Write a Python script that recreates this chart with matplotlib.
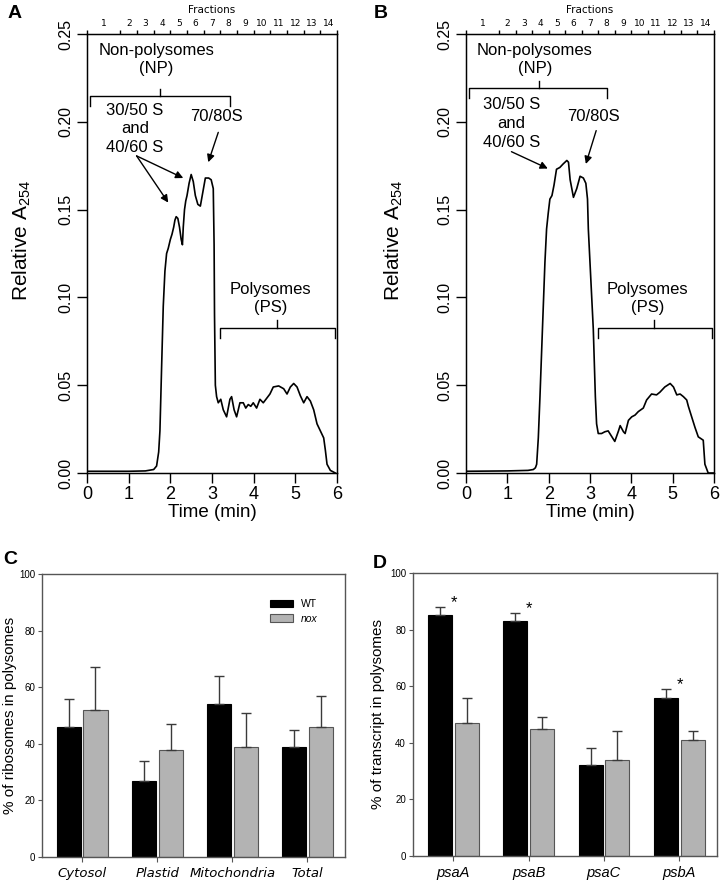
import numpy as np
import matplotlib
matplotlib.use('Agg')
import matplotlib.pyplot as plt

plt.rcParams['font.family'] = ['Liberation Sans', 'DejaVu Sans']
plt.rcParams['mathtext.default'] = 'regular'

# ---- panel A/B profiles (time in min, relative A254) ----
time_a = [0.0, 1.0, 1.4, 1.6, 1.67, 1.72, 1.75, 1.79, 1.83, 1.87, 1.91, 1.95,
          2.0, 2.04, 2.08, 2.11, 2.14, 2.18, 2.22, 2.26, 2.29, 2.31, 2.34, 2.37,
          2.4, 2.45, 2.5, 2.55, 2.6, 2.66, 2.72, 2.78, 2.84, 2.92, 2.98, 3.03,
          3.05, 3.06, 3.08, 3.11, 3.15, 3.21, 3.27, 3.35, 3.43, 3.47, 3.53, 3.59,
          3.67, 3.75, 3.81, 3.87, 3.93, 3.99, 4.07, 4.15, 4.23, 4.31, 4.39, 4.47,
          4.6, 4.72, 4.8, 4.88, 4.96, 5.04, 5.12, 5.2, 5.28, 5.36, 5.44, 5.52,
          5.6, 5.68, 5.72, 5.76, 5.84, 5.96]
abs_a = [0.001, 0.001, 0.0012, 0.002, 0.004, 0.012, 0.024, 0.06, 0.095, 0.115,
         0.125, 0.128, 0.133, 0.136, 0.140, 0.144, 0.146, 0.145, 0.140, 0.133,
         0.130, 0.140, 0.150, 0.155, 0.158, 0.165, 0.170, 0.166, 0.158, 0.153,
         0.152, 0.160, 0.168, 0.168, 0.167, 0.162, 0.13, 0.09, 0.05, 0.0435,
         0.040, 0.042, 0.036, 0.032, 0.042, 0.0435, 0.036, 0.032, 0.040, 0.040,
         0.037, 0.039, 0.038, 0.040, 0.037, 0.042, 0.040, 0.0425, 0.045, 0.049,
         0.0496, 0.048, 0.045, 0.049, 0.051, 0.049, 0.044, 0.040, 0.0435, 0.041,
         0.036, 0.028, 0.024, 0.020, 0.013, 0.005, 0.0015, 0.0]

time_b = [0.0, 1.0, 1.5, 1.63, 1.68, 1.71, 1.75, 1.79, 1.85, 1.91, 1.95, 1.99,
          2.03, 2.08, 2.13, 2.19, 2.27, 2.35, 2.44, 2.48, 2.52, 2.6, 2.68, 2.76,
          2.84, 2.9, 2.94, 2.96, 3.0, 3.08, 3.13, 3.16, 3.2, 3.28, 3.36, 3.44,
          3.52, 3.6, 3.69, 3.73, 3.81, 3.85, 3.93, 4.01, 4.09, 4.17, 4.29, 4.37,
          4.49, 4.61, 4.69, 4.81, 4.94, 5.02, 5.1, 5.18, 5.26, 5.34, 5.38, 5.46,
          5.54, 5.62, 5.74, 5.78, 5.86, 6.0]
abs_b = [0.001, 0.0012, 0.0015, 0.002, 0.003, 0.005, 0.02, 0.0435, 0.082, 0.12,
         0.139, 0.148, 0.156, 0.158, 0.164, 0.173, 0.174, 0.176, 0.178, 0.177,
         0.167, 0.157, 0.162, 0.169, 0.168, 0.165, 0.156, 0.139, 0.12, 0.082,
         0.0435, 0.028, 0.0225, 0.0225, 0.0235, 0.024, 0.021, 0.018, 0.024, 0.027,
         0.0235, 0.0225, 0.030, 0.032, 0.033, 0.035, 0.037, 0.0416, 0.045, 0.0445,
         0.046, 0.049, 0.051, 0.049, 0.0445, 0.045, 0.0435, 0.0416, 0.038, 0.032,
         0.026, 0.0206, 0.0187, 0.005, 0.0, 0.0]

frac_edges = [0, 0.8, 1.2, 1.6, 2.0, 2.4, 2.8, 3.2, 3.6, 4.0, 4.4, 4.8, 5.2,
              5.6, 6.0]
frac_labels = [str(i) for i in range(1, 15)]

# ---- panel C/D bars ----
cats_c = ['Cytosol', 'Plastid', 'Mitochondria', 'Total']
wt_c = [46, 27, 54, 39]
wt_c_err = [10, 7, 10, 6]
nox_c = [52, 38, 39, 46]
nox_c_err = [15, 9, 12, 11]

cats_d = ['psaA', 'psaB', 'psaC', 'psbA']
wt_d = [85, 83, 32, 56]
wt_d_err = [3, 3, 6, 3]
nox_d = [47, 45, 34, 41]
nox_d_err = [9, 4, 10, 3]
signif_d = [True, True, False, True]

fig = plt.figure(figsize=(7.22, 8.84), dpi=100)


def profile_panel(rect, t, a, ann):
    ax = fig.add_axes(rect)
    ax.plot(t, a, color='k', lw=1.2)
    ax.set_xlim(0, 6)
    ax.set_ylim(0, 0.25)
    ax.set_xticks(range(7))
    ax.set_yticks([0, 0.05, 0.10, 0.15, 0.20, 0.25])
    ax.set_yticklabels(['0.00', '0.05', '0.10', '0.15', '0.20', '0.25'])
    ax.tick_params(axis='x', length=7, width=1, labelsize=13, pad=2)
    ax.tick_params(axis='y', length=7, width=1, labelsize=11.5, pad=3,
                   labelrotation=90)
    for lab in ax.get_yticklabels():
        lab.set_va('center')
    for s in ax.spines.values():
        s.set_linewidth(1)
    ax.set_xlabel('Time (min)', fontsize=13.5, labelpad=1)
    ax.set_ylabel('Relative A$_{254}$', fontsize=15)
    ax.yaxis.set_label_coords(ann['ylab_x'], 0.53)

    # fractions axis on top
    top = ax.twiny()
    top.set_xlim(0, 6)
    top.set_xticks(frac_edges)
    top.set_xticklabels([])
    mids = [(frac_edges[i] + frac_edges[i + 1]) / 2 for i in range(14)]
    top.set_xticks(mids, minor=True)
    top.set_xticklabels(frac_labels, minor=True, family='DejaVu Sans')
    top.tick_params(axis='x', which='major', length=3, width=1)
    top.tick_params(axis='x', which='minor', length=0, labelsize=6.5, pad=4)
    top.set_xlabel('Fractions', fontsize=7.5, family='DejaVu Sans', labelpad=5)

    # annotations
    kw = dict(ha='center', va='center', fontsize=12, linespacing=1.3)
    ax.text(1.67, 0.2355, 'Non-polysomes\n(NP)', **kw)
    ax.text(4.40, 0.0995, 'Polysomes\n(PS)', **kw)
    ax.text(ann['s_txt'][0], ann['s_txt'][1], '30/50 S\nand\n40/60 S', **kw)
    ax.text(ann['m_txt'][0], ann['m_txt'][1], '70/80S', **kw)
    ap = dict(arrowstyle='-|>', color='k', lw=1, mutation_scale=11,
              shrinkA=0, shrinkB=0)
    for tip in ann['s_tips']:
        ax.annotate('', xy=tip, xytext=ann['s_from'], arrowprops=ap)
    ax.annotate('', xy=ann['m_tip'], xytext=ann['m_from'], arrowprops=ap)

    # brackets
    for x0, x1, xc, yb, h in [(ann['np'][0], ann['np'][1], ann['np'][2], ann['np'][3], 0.0055),
                              (3.19, 5.94, 4.56, 0.0826, 0.0055)]:
        ax.plot([x0, x0, x1, x1], [yb - h, yb, yb, yb - h], color='k', lw=1)
        ax.plot([xc, xc], [yb, yb + h * 0.8], color='k', lw=1)
    return ax


ann_a = dict(s_txt=(1.15, 0.196), m_txt=(3.11, 0.203),
             s_from=(1.19, 0.1806), s_tips=[(2.31, 0.168), (1.95, 0.154)],
             m_from=(3.15, 0.194), m_tip=(2.91, 0.177),
             np=(0.06, 3.42, 1.76, 0.2145), ylab_x=-0.216)
ann_b = dict(s_txt=(1.10, 0.199), m_txt=(3.08, 0.203),
             s_from=(1.10, 0.183), s_tips=[(1.98, 0.1734)],
             m_from=(3.15, 0.195), m_tip=(2.90, 0.176),
             np=(0.08, 3.42, 1.77, 0.219), ylab_x=-0.246)

profile_panel([0.1205, 0.4649, 0.3463, 0.4966], time_a, abs_a, ann_a)
profile_panel([0.6454, 0.4649, 0.3435, 0.4966], time_b, abs_b, ann_b)


def bar_panel(rect, cats, wt, wt_err, nox, nox_err, ylabel, ylab_x, cat_font):
    ax = fig.add_axes(rect)
    x = np.arange(len(cats))
    w = 0.32
    off = 0.177
    ax.bar(x - off, wt, w, color='k', edgecolor='k', lw=0.8, label='WT')
    ax.bar(x + off, nox, w, color='#b3b3b3', edgecolor='#555555', lw=0.8,
           label='nox')
    ax.errorbar(x - off, wt, yerr=[np.zeros(len(x)), wt_err], fmt='none',
                ecolor='#3a3a3a', elinewidth=1, capsize=3.6, capthick=1)
    ax.errorbar(x + off, nox, yerr=[np.zeros(len(x)), nox_err], fmt='none',
                ecolor='#3a3a3a', elinewidth=1, capsize=3.6, capthick=1)
    ax.set_xlim(-0.535, 3.5)
    ax.set_ylim(0, 100)
    ax.set_yticks([0, 20, 40, 60, 80, 100])
    ax.set_xticks(x)
    ax.set_xticklabels(cats, **cat_font)
    ax.tick_params(axis='y', length=3, width=0.8, labelsize=7, pad=2,
                   color='#555555')
    ax.tick_params(axis='x', length=3.5, width=0.8, pad=4, color='#555555')
    for s in ax.spines.values():
        s.set_color('#555555')
        s.set_linewidth(1)
    ax.set_ylabel(ylabel, fontsize=11)
    ax.yaxis.set_label_coords(ylab_x, 0.5)
    return ax, x, off


ax_c, xc, off = bar_panel([0.0582, 0.0305, 0.4197, 0.3201], cats_c, wt_c,
                          wt_c_err, nox_c, nox_c_err,
                          '% of ribosomes in polysomes', -0.084,
                          dict(family='DejaVu Sans', style='italic',
                               fontsize=9.5))
leg = ax_c.legend(frameon=False, loc='upper left', bbox_to_anchor=(0.735, 0.93),
                  fontsize=7.5, handlelength=2.2, handleheight=0.75,
                  handletextpad=0.8, labelspacing=0.45, borderpad=0)
leg.get_texts()[1].set_style('italic')

ax_d, xd, off = bar_panel([0.572, 0.0317, 0.421, 0.3201], cats_d, wt_d,
                          wt_d_err, nox_d, nox_d_err,
                          '% of transcript in polysomes', -0.092,
                          dict(style='italic', fontsize=10.5))
for i, sig in enumerate(signif_d):
    if sig:
        ax_d.text(xd[i] + 0.01, wt_d[i] + wt_d_err[i] + 1.5, '*',
                  ha='center', va='center', fontsize=12)

# panel letters
for x, y, s in [(0.011, 0.985, 'A'), (0.517, 0.985, 'B'),
                (0.005, 0.367, 'C'), (0.516, 0.362, 'D')]:
    fig.text(x, y, s, fontsize=14, fontweight='bold', va='center')

fig.savefig('out.png', dpi=100)
